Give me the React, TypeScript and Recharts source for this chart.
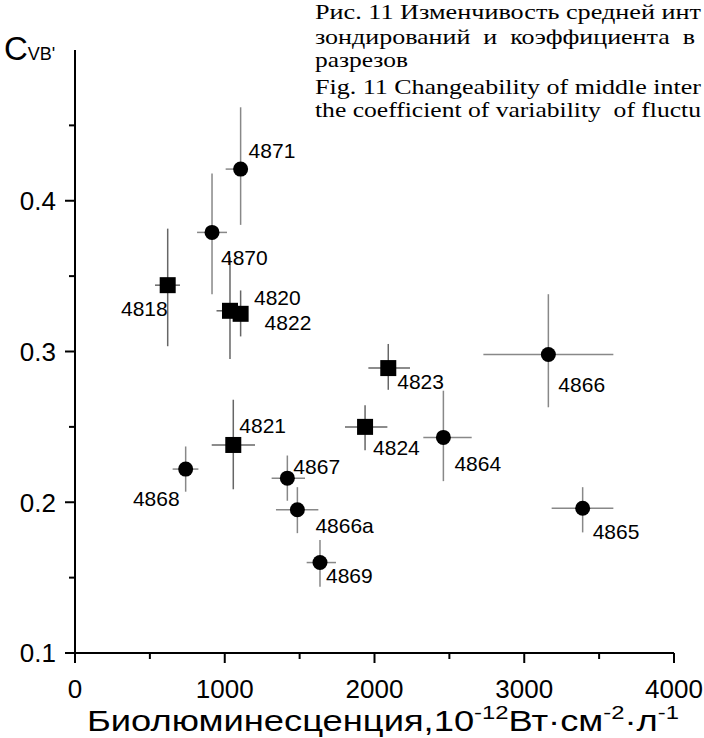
import { ScatterChart, Scatter, XAxis, YAxis, ErrorBar } from "recharts";

// circles
const circleStations = ["4871", "4870", "4866", "4864", "4865", "4868", "4867", "4866a", "4869"];
const circleX = [1106, 915, 3161, 2460, 3390, 739, 1418, 1485, 1636];
const circleY = [0.421, 0.379, 0.298, 0.243, 0.196, 0.222, 0.216, 0.195, 0.16];
const circleXErr = [[100, 0], [100, 100], [434, 434], [134, 189], [207, 205], [87, 85], [105, 118], [143, 140], [89, 107]];
const circleYErr = [[0.037, 0.041], [0.041, 0.039], [0.035, 0.04], [0.029, 0.031], [0.016, 0.014], [0.015, 0.015], [0.015, 0.015], [0.0155, 0.015], [0.016, 0.015]];

// squares
const squareStations = ["4818", "4820", "4822", "4823", "4824", "4821"];
const squareX = [619, 1035, 1106, 2092, 1937, 1057];
const squareY = [0.344, 0.327, 0.325, 0.289, 0.25, 0.238];
const squareXErr = [[85, 82], [90, 60], [0, 0], [133, 145], [134, 149], [144, 145]];
const squareYErr = [[0.0405, 0.0375], [0.032, 0.0355], [0.015, 0.0155], [0.0144, 0.016], [0.0155, 0.0144], [0.0294, 0.03]];

const xTicks = [0, 500, 1000, 1500, 2000, 2500, 3000, 3500, 4000];
const yTicks = [0.1, 0.15, 0.2, 0.25, 0.3, 0.35, 0.4, 0.45, 0.5];

// caption as far as it is visible in the figure
const captionLines = [
  "Рис. 11 Изменчивость средней инт",
  "зондирований  и  коэффициента  в",
  "разрезов",
  "Fig. 11 Changeability of middle inter",
  "the coefficient of variability  of fluctu",
];
const captionY = [19, 44, 67, 94, 117];
const captionLen = [386, 380, 93, 386, 386];

// label placement next to each marker: dx, dy, anchor
const labelPos: Record<string, [number, number, string]> = {
  "4871": [8, -11, "start"],
  "4870": [9, 33, "start"],
  "4820": [24, -6, "start"],
  "4822": [24, 16, "start"],
  "4818": [0, 31, "end"],
  "4823": [9, 21, "start"],
  "4824": [8, 28, "start"],
  "4864": [11, 34, "start"],
  "4866": [10, 37, "start"],
  "4865": [10, 31, "start"],
  "4866a": [18, 23, "start"],
  "4867": [6, -4, "start"],
  "4868": [-6, 37, "end"],
  "4821": [6, -12, "start"],
  "4869": [6, 20, "start"],
};

const circles = circleStations.map((s, i) => ({
  station: s, x: circleX[i], y: circleY[i], xErr: circleXErr[i], yErr: circleYErr[i],
}));
const squares = squareStations.map((s, i) => ({
  station: s, x: squareX[i], y: squareY[i], xErr: squareXErr[i], yErr: squareYErr[i],
}));

const FONT = "'Liberation Sans', Arial, sans-serif";

function label(cx: number, cy: number, station: string) {
  const [dx, dy, anchor] = labelPos[station] || [8, 20, "start"];
  return (
    <text x={cx + dx} y={cy + dy} fontSize={21} fontFamily={FONT} textAnchor={anchor as any} fill="#000">
      {station}
    </text>
  );
}

const CircleShape = (props: any) => {
  const { cx, cy, payload } = props;
  return (
    <g>
      <circle cx={cx} cy={cy} r={7.5} fill="#000" />
      {label(cx, cy, payload.station)}
    </g>
  );
};

const SquareShape = (props: any) => {
  const { cx, cy, payload } = props;
  return (
    <g>
      <rect x={cx - 8} y={cy - 8} width={16} height={16} fill="#000" />
      {label(cx, cy, payload.station)}
    </g>
  );
};

const XTick = (props: any) => {
  const { x, y, payload } = props;
  const v = payload.value;
  const major = v % 1000 === 0;
  return (
    <g>
      <line x1={x} x2={x} y1={y} y2={y + (major ? 10 : 6)} stroke="#000" strokeWidth={2} />
      {major && (
        <text x={x} y={y + 45} textAnchor="middle" fontSize={26} fontFamily={FONT} fill="#000">
          {v}
        </text>
      )}
    </g>
  );
};

const YTick = (props: any) => {
  const { x, y, payload } = props;
  const v = payload.value;
  if (v >= 0.5) return <g />;
  const major = Math.abs(v * 10 - Math.round(v * 10)) < 1e-6;
  return (
    <g>
      <line x1={x - (major ? 10 : 6)} x2={x} y1={y} y2={y} stroke="#000" strokeWidth={2} />
      {major && (
        <text x={x - 19} y={y} dy="0.36em" textAnchor="end" fontSize={26} fontFamily={FONT} fill="#000">
          {v.toFixed(1)}
        </text>
      )}
    </g>
  );
};

export default function App() {
  return (
    <div style={{ position: "absolute", left: 0, top: 0, width: 704, height: 738, background: "#fff" }}>
      <ScatterChart width={704} height={738} margin={{ top: 50, right: 30, bottom: 0, left: 0 }}>
        <XAxis
          type="number"
          dataKey="x"
          domain={[0, 4000]}
          ticks={xTicks}
          tick={<XTick />}
          tickLine={false}
          tickSize={0}
          tickMargin={0}
          height={85}
          axisLine={{ stroke: "#000", strokeWidth: 2 }}
          allowDataOverflow
        />
        <YAxis
          type="number"
          dataKey="y"
          domain={[0.1, 0.5]}
          ticks={yTicks}
          tick={<YTick />}
          tickLine={false}
          tickSize={0}
          tickMargin={0}
          width={75}
          axisLine={{ stroke: "#000", strokeWidth: 2 }}
          allowDataOverflow
        />
        <Scatter data={circles} shape={<CircleShape />} isAnimationActive={false}>
          <ErrorBar dataKey="xErr" direction="x" width={0} stroke="#888" strokeWidth={1.5} />
          <ErrorBar dataKey="yErr" direction="y" width={0} stroke="#888" strokeWidth={1.5} />
        </Scatter>
        <Scatter data={squares} shape={<SquareShape />} isAnimationActive={false}>
          <ErrorBar dataKey="xErr" direction="x" width={0} stroke="#666" strokeWidth={1.5} />
          <ErrorBar dataKey="yErr" direction="y" width={0} stroke="#666" strokeWidth={1.5} />
        </Scatter>
      </ScatterChart>
      <svg width={704} height={738} style={{ position: "absolute", left: 0, top: 0, pointerEvents: "none" }}>
        {captionLines.map((t, i) => (
          <text
            key={i}
            x={315}
            y={captionY[i]}
            fontSize={22}
            fontFamily="'Liberation Serif', 'Times New Roman', serif"
            fill="#000"
            textLength={captionLen[i]}
            lengthAdjust="spacingAndGlyphs"
            style={{ whiteSpace: "pre" }}
          >
            {t}
          </text>
        ))}
        <text x={4} y={60} fontFamily={FONT} fill="#000">
          <tspan fontSize={33}>C</tspan>
          <tspan fontSize={18}>VB'</tspan>
        </text>
        <text x={87} y={731} fontFamily={FONT} fontSize={29} fill="#000" textLength={592} lengthAdjust="spacingAndGlyphs">
          Биолюминесценция,10
          <tspan fontSize={19} dy={-12}>-12</tspan>
          <tspan fontSize={29} dy={12}>Вт·см</tspan>
          <tspan fontSize={19} dy={-12}>-2</tspan>
          <tspan fontSize={29} dy={12}>·л</tspan>
          <tspan fontSize={19} dy={-12}>-1</tspan>
        </text>
      </svg>
    </div>
  );
}
